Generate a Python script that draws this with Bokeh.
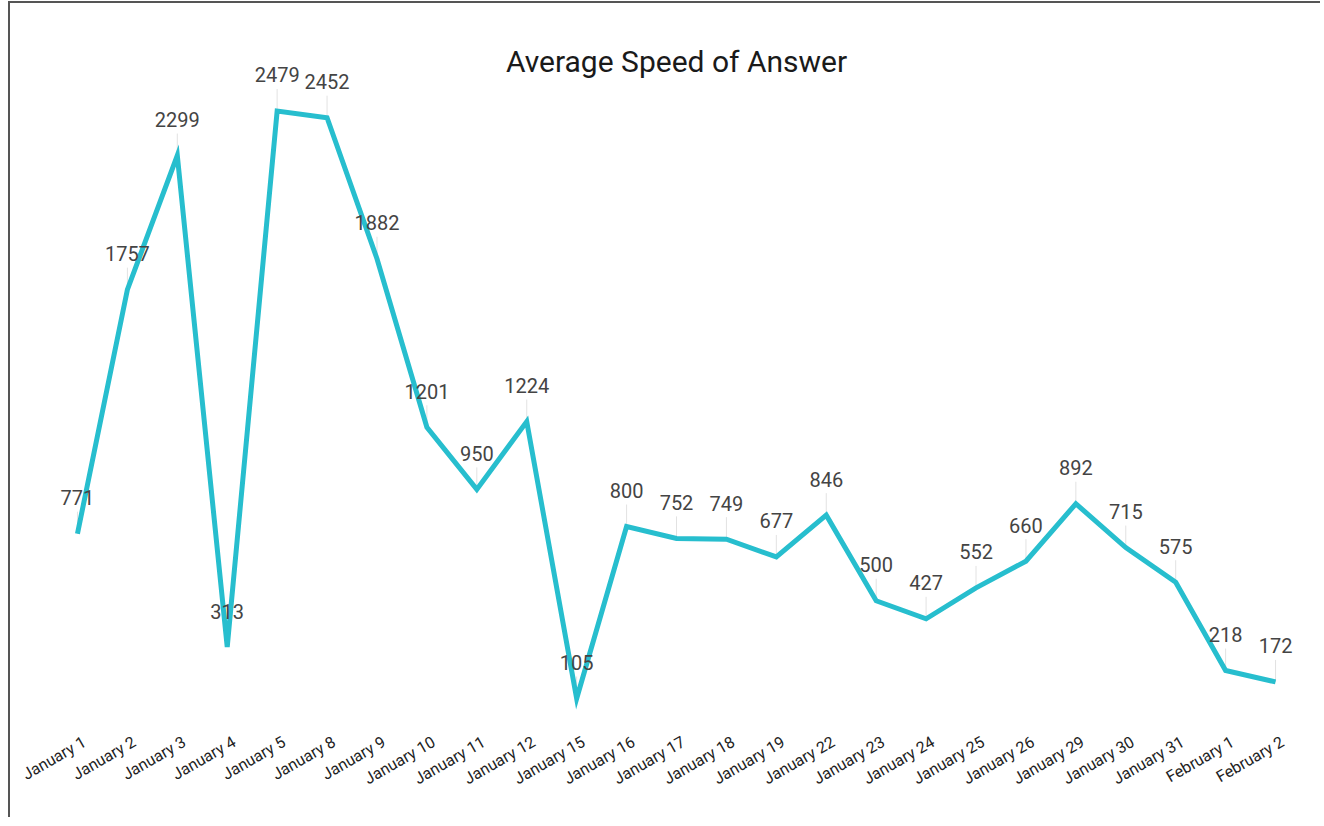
from bokeh.plotting import figure
from bokeh.models import Range1d, Label, LinearAxis, FixedTicker
from bokeh.core.properties import value
from bokeh.embed import file_html
from bokeh.resources import INLINE
import math

categories = ["January 1", "January 2", "January 3", "January 4", "January 5",
              "January 8", "January 9", "January 10", "January 11", "January 12",
              "January 15", "January 16", "January 17", "January 18", "January 19",
              "January 22", "January 23", "January 24", "January 25", "January 26",
              "January 29", "January 30", "January 31", "February 1", "February 2"]
values = [771, 1757, 2299, 313, 2479, 2452, 1882, 1201, 950, 1224,
          105, 800, 752, 749, 677, 846, 500, 427, 552, 660,
          892, 715, 575, 218, 172]
labels = [str(v) for v in values]
title_text = "Average Speed of Answer"

FONT = "Roboto"
LINE_COLOR = "#27BECE"

W, H = 1312, 816
frame_h = 714
top_pad = 7
y_end = 2885.0
px_per_unit = frame_h / y_end
leader_px = 22
label_shift = 0.14  # tick-label shift in category widths

n = len(categories)
xpos = list(range(n))  # category positions

p = figure(width=W, height=H, x_range=Range1d(-0.5, n - 0.5),
           y_range=Range1d(0, y_end), output_backend="svg",
           toolbar_location=None, x_axis_location=None, y_axis_location=None,
           title=None,
           min_border_left=42, min_border_right=22, min_border_top=top_pad,
           min_border_bottom=H - top_pad - frame_h)
p.styles = {"border-top": "2px solid #555555", "border-left": "2px solid #555555",
            "margin-left": "8px", "margin-top": "1px"}
p.outline_line_color = None
p.xgrid.visible = False
p.ygrid.visible = False
p.background_fill_color = "white"
p.border_fill_color = "white"

p.extra_x_ranges = {"lab": Range1d(-0.5 - label_shift, n - 0.5 - label_shift)}
ax = LinearAxis(x_range_name="lab",
                ticker=FixedTicker(ticks=xpos, minor_ticks=[]),
                major_label_overrides={i: c for i, c in zip(xpos, categories)})
ax.axis_line_color = None
ax.major_tick_line_color = None
ax.minor_tick_line_color = None
ax.major_label_orientation = math.pi / 6
ax.major_label_text_font = FONT
ax.major_label_text_font_size = "16px"
ax.major_label_text_color = "#222222"
ax.major_label_standoff = 10
p.add_layout(ax, "below")

# leader lines
p.segment(x0=xpos, y0=values, x1=xpos,
          y1=[v + leader_px / px_per_unit for v in values],
          line_color="#e2e2e2", line_width=1)

p.line(x=xpos, y=values, line_color=LINE_COLOR, line_width=5,
       line_join="miter", line_cap="butt")

p.text(x=xpos, y=values, text=labels, y_offset=-36,
       text_align="center", text_baseline="middle",
       text_font=value(FONT), text_font_size="20px", text_color="#444444")

p.add_layout(Label(x=(n - 1) / 2, y=2680, text=title_text, text_align="center",
                   text_baseline="alphabetic", text_font=FONT,
                   text_font_size="30px", text_color="#1a1a1a"))

open("out.html", "w").write(file_html(p, INLINE))
